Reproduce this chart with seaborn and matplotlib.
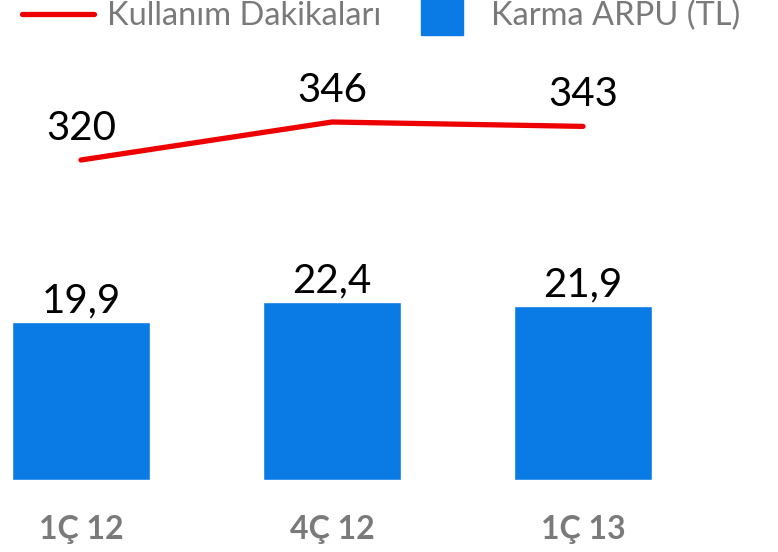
import matplotlib
matplotlib.use("Agg")
import numpy as np
import pandas as pd
import matplotlib.pyplot as plt
import seaborn as sns
from matplotlib.lines import Line2D

# data
quarters = ["1Ç 12", "4Ç 12", "1Ç 13"]
arpu = [19.9, 22.4, 21.9]          # Karma ARPU (TL)
minutes = [320, 346, 343]          # Kullanım Dakikaları

bar_color = "#0A7BE4"
line_color = "#EE0000"
grey = "#7A7A7A"

sns.set_theme(style="white")
plt.rcParams["font.family"] = ["Lato", "DejaVu Sans"]

fig = plt.figure(figsize=(7.78, 5.52), dpi=100)
ax = fig.add_axes([0, 47 / 552, 1, 505 / 552])

df = pd.DataFrame({"q": quarters, "arpu": arpu, "min": minutes})
sns.barplot(data=df, x="q", y="arpu", color=bar_color, width=0.55,
            saturation=1, ax=ax)
ax.bar_label(ax.containers[0], labels=[f"{v:.1f}".replace(".", ",") for v in arpu],
             padding=2, fontsize=29, color="black")

ax.set_xlim(-81 / 251, (778 - 81) / 251)
ax.set_ylim(-25 / 7.94, 480 / 7.94)
ax.set_xlabel("")
ax.set_ylabel("")
ax.set_yticks([])
ax.tick_params(axis="x", length=0, pad=7, labelsize=23, labelcolor=grey)
for t in ax.get_xticklabels():
    t.set_fontweight("bold")
sns.despine(ax=ax, left=True, bottom=True)

ax2 = ax.twinx()
sns.lineplot(x=np.arange(len(minutes)), y=minutes, color=line_color, lw=3.8, ax=ax2)
for i, v in enumerate(minutes):
    ax2.annotate(str(v), (i, v), xytext=(0, 23), textcoords="offset points",
                 ha="center", va="center", fontsize=29, color="black")
ax2.set_ylim(320 - 345 / 1.4615, 320 + 160 / 1.4615)
ax2.set_yticks([])
ax2.set_ylabel("")
sns.despine(ax=ax2, left=True, bottom=True, right=True)

handles = [
    Line2D([], [], color=line_color, lw=3.8),
    Line2D([], [], color=bar_color, marker="s", markersize=30, linestyle="none"),
]
leg = fig.legend(handles, ["Kullanım Dakikaları", "Karma ARPU (TL)"], ncol=2,
                 loc="upper left", bbox_to_anchor=(22 / 778, 1 - 1 / 552),
                 frameon=False, fontsize=23.5, handlelength=2.2, handletextpad=0.4,
                 columnspacing=0.75, borderpad=0, borderaxespad=0)
for t in leg.get_texts():
    t.set_color(grey)

fig.savefig("out.png", dpi=100)
